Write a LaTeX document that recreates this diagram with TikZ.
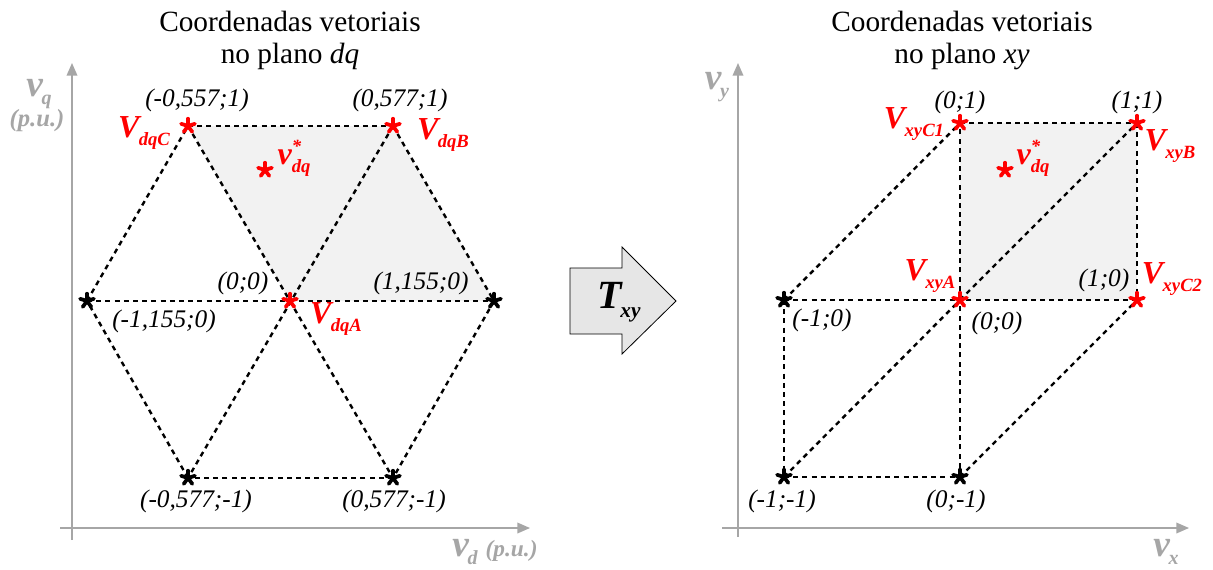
\documentclass[tikz,border=0pt]{standalone}
\usepackage{fontspec}
\setmainfont{Liberation Serif}
\usetikzlibrary{arrows.meta}
\definecolor{axgray}{HTML}{A6A6A6}
\definecolor{shadegray}{HTML}{F2F2F2}
\definecolor{arrowgray}{HTML}{E6E6E6}
\definecolor{vred}{HTML}{FF0000}
\newcommand{\Vsub}[2]{{\bfseries\itshape\fontsize{24}{24}\selectfont #1\kern-0.5pt\raisebox{-5.5pt}{\fontsize{14}{14}\selectfont #2}}}
\newcommand{\vstar}{{\bfseries\itshape\fontsize{24}{24}\selectfont v\makebox[0pt][l]{\raisebox{9.5pt}{\fontsize{14}{14}\selectfont *}}\raisebox{-5.5pt}{\fontsize{14}{14}\selectfont dq}}}
\newcommand{\axv}[2]{{\bfseries\itshape\fontsize{28}{28}\selectfont #1\kern-1pt\raisebox{-6.5pt}{\fontsize{15}{15}\selectfont #2}}}
\tikzset{
  dl/.style={draw=black, dash pattern=on 3.7pt off 3.2pt, line width=1.8pt},
  axis/.style={draw=axgray, line width=1.1pt, -{Triangle[length=9.5pt,width=8pt]}},
  coordlabel/.style={inner sep=0pt, font=\itshape\fontsize{19}{19}\selectfont},
  vlabel/.style={inner sep=0pt, text=vred},
  axlabel/.style={inner sep=0pt, text=axgray},
  titlelabel/.style={inner sep=0pt, anchor=base, font=\fontsize{22}{22}\selectfont},
  astk/.pic={\foreach \a in {270,342,54,126,198} \draw[line width=2.8pt, line cap=round] (0,0) -- (\a:7.3);}
}
\begin{document}
\begin{tikzpicture}[x=0.75pt,y=-0.75pt]
\useasboundingbox (0,0) rectangle (1213,569);

% ---------------- left plane -----------------
\coordinate (LyB) at (72,540);
\coordinate (LyT) at (72,63);
\coordinate (LxL) at (60,528);
\coordinate (LxR) at (530,528);
\draw[axis] (LyB) -- (LyT);
\draw[axis] (LxL) -- (LxR);

\coordinate (C) at (188,126);
\coordinate (B) at (393,126);
\coordinate (L) at (87,301);
\coordinate (A) at (290,301);
\coordinate (R) at (494,301);
\coordinate (BL) at (188,478);
\coordinate (BR) at (393,478);

\fill[shadegray] (C) -- (B) -- (R) -- (A) -- cycle;
\draw[dl] (C) -- (B);
\draw[dl] (B) -- (R);
\draw[dl] (R) -- (BR);
\draw[dl] (BR) -- (BL);
\draw[dl] (BL) -- (L);
\draw[dl] (L) -- (C);
\draw[dl] (L) -- (R);
\draw[dl] (C) -- (BR);
\draw[dl] (B) -- (BL);

\pic[color=vred] at (C) {astk};
\pic[color=vred] at (B) {astk};
\pic[color=vred] at (A) {astk};
\pic[color=black] at (L) {astk};
\pic[color=black] at (R) {astk};
\pic[color=black] at (BL) {astk};
\pic[color=black] at (BR) {astk};
\coordinate (Sdq) at (265,170);
\pic[color=vred] at (Sdq) {astk};

\node[titlelabel] (t1a) at (290,31) {Coordenadas vetoriais};
\node[titlelabel] (t1b) at (290,63) {no plano \textit{dq}};

\node[coordlabel] (lC) at (197,100) {(-0,557;1)};
\node[coordlabel] (lB) at (400,100) {(0,577;1)};
\node[coordlabel] (lA) at (243,283) {(0;0)};
\node[coordlabel] (lR) at (421,283) {(1,155;0)};
\node[coordlabel] (lL) at (164,321) {(-1,155;0)};
\node[coordlabel] (lBL) at (196,501) {(-0,577;-1)};
\node[coordlabel] (lBR) at (394,501) {(0,577;-1)};

\node[vlabel] (vC) at (144,133) {\Vsub{V}{dqC}};
\node[vlabel] (vB) at (443,135) {\Vsub{V}{dqB}};
\node[vlabel] (vA) at (336,319) {\Vsub{V}{dqA}};
\node[vlabel] (vS) at (294,158) {\vstar};

\node[axlabel] (aq) at (39,94) {\axv{v}{q}};
\node[axlabel, font=\bfseries\itshape\fontsize{18.5}{18.5}\selectfont] (apu) at (37,121) {(p.u.)};
\node[axlabel] (ad) at (495,552) {\axv{v}{d}\hspace{6pt}{\bfseries\itshape\fontsize{17.5}{17.5}\selectfont (p.u.)}};

% ---------------- transformation arrow -----------------
\coordinate (T1) at (570,268);
\coordinate (T2) at (622,268);
\coordinate (T3) at (622,247);
\coordinate (T4) at (676,301);
\coordinate (T5) at (622,354);
\coordinate (T6) at (622,334);
\coordinate (T7) at (570,334);
\draw[fill=arrowgray, line width=0.6pt] (T1) -- (T2) -- (T3) -- (T4) -- (T5) -- (T6) -- (T7) -- cycle;
\node[inner sep=0pt] (Txy) at (619,302) {{\bfseries\itshape\fontsize{30}{30}\selectfont T\kern-1pt\raisebox{-7pt}{\fontsize{16}{16}\selectfont xy}}};

% ---------------- right plane -----------------
\coordinate (RyB) at (738,537);
\coordinate (RyT) at (738,63);
\coordinate (RxL) at (722,528);
\coordinate (RxR) at (1189,528);
\draw[axis] (RyB) -- (RyT);
\draw[axis] (RxL) -- (RxR);

\coordinate (C1) at (960,123);
\coordinate (XB) at (1137,123);
\coordinate (XL) at (784,300);
\coordinate (XA) at (960,300);
\coordinate (C2) at (1137,300);
\coordinate (XBL) at (784,477);
\coordinate (XBM) at (960,477);

\fill[shadegray] (C1) -- (XB) -- (C2) -- (XA) -- cycle;
\draw[dl] (C1) -- (XB);
\draw[dl] (XB) -- (C2);
\draw[dl] (C2) -- (XA);
\draw[dl] (XA) -- (C1);
\draw[dl] (XA) -- (XB);
\draw[dl] (XL) -- (XA);
\draw[dl] (XL) -- (C1);
\draw[dl] (XL) -- (XBL);
\draw[dl] (XBL) -- (XBM);
\draw[dl] (XBM) -- (XA);
\draw[dl] (XBL) -- (XA);
\draw[dl] (XBM) -- (C2);

\pic[color=vred] at (C1) {astk};
\pic[color=vred] at (XB) {astk};
\pic[color=vred] at (XA) {astk};
\pic[color=vred] at (C2) {astk};
\pic[color=black] at (XL) {astk};
\pic[color=black] at (XBL) {astk};
\pic[color=black] at (XBM) {astk};
\coordinate (XSdq) at (1005,170);
\pic[color=vred] at (XSdq) {astk};

\node[titlelabel] (t2a) at (962,31) {Coordenadas vetoriais};
\node[titlelabel] (t2b) at (962,63) {no plano \textit{xy}};

\node[coordlabel] (xlC1) at (960,102) {(0;1)};
\node[coordlabel] (xlB) at (1137,102) {(1;1)};
\node[coordlabel] (xlC2) at (1104,280) {(1;0)};
\node[coordlabel] (xlL) at (822,320) {(-1;0)};
\node[coordlabel] (xlA) at (997,323) {(0;0)};
\node[coordlabel] (xlBL) at (782,501) {(-1;-1)};
\node[coordlabel] (xlBM) at (956,501) {(0;-1)};

\node[vlabel] (xvC1) at (914,124) {\Vsub{V}{xyC1}};
\node[vlabel] (xvB) at (1170,146) {\Vsub{V}{xyB}};
\node[vlabel] (xvA) at (930,276) {\Vsub{V}{xyA}};
\node[vlabel] (xvC2) at (1172,279) {\Vsub{V}{xyC2}};
\node[vlabel] (xvS) at (1033,158) {\vstar};

\node[axlabel] (ay) at (717,87) {\axv{v}{y}};
\node[axlabel] (ax) at (1166,552) {\axv{v}{x}};
\end{tikzpicture}
\end{document}
